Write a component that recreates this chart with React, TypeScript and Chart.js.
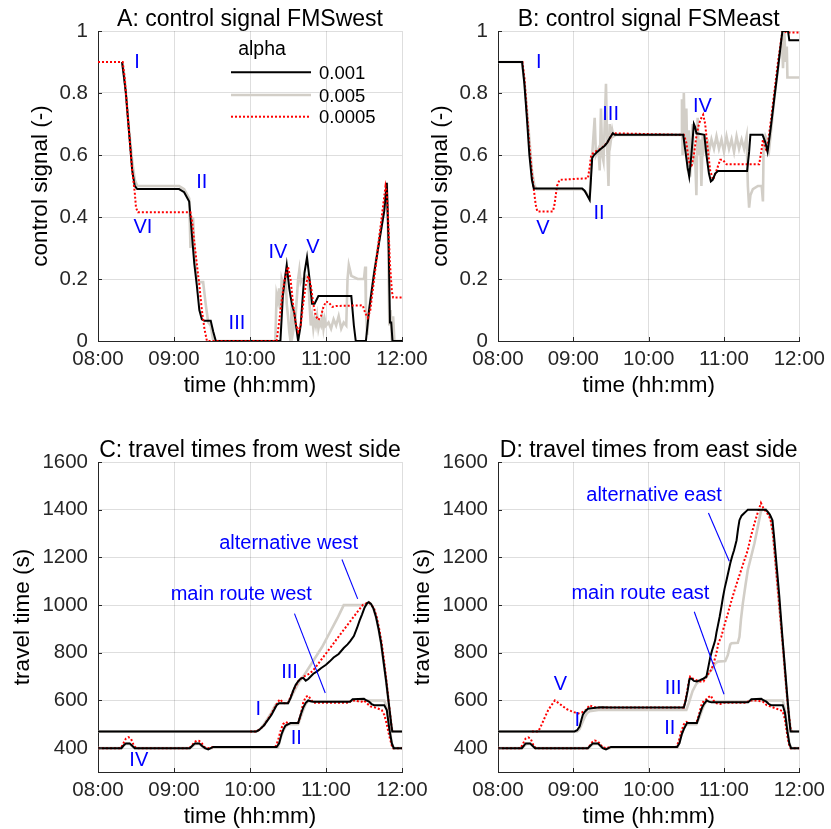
import React, { useEffect, useRef } from 'react';
import { Chart, registerables } from 'chart.js';

Chart.register(...registerables);

type Pts = [number, number][];

const FONT = '"Liberation Sans", Arial, Helvetica, sans-serif';
const AXIS = '#262626';
const GRID = 'rgba(0,0,0,0.13)';
const BLUE = '#0000ff';

// time is in minutes after 08:00
const TIME_TICKS = [0, 60, 120, 180, 240];
const SIGNAL_TICKS = [0, 0.2, 0.4, 0.6, 0.8, 1];
const TRAVEL_TICKS = [400, 600, 800, 1000, 1200, 1400, 1600];
const ALPHAS = ['0.001', '0.005', '0.0005'];

// ---- A: control signal FMSwest ----
const aBlack: Pts = [
  [19, 0.9], [19.5, 0.9], [22, 0.8], [25, 0.65], [27, 0.55], [29, 0.5], [31, 0.49], [64, 0.49], [68, 0.48],
  [72, 0.45], [74, 0.35], [76, 0.25], [78, 0.18], [80, 0.1], [82, 0.07], [84, 0.065], [89, 0.065], [91, 0.03],
  [93, 0], [144, 0], [146, 0.15], [149, 0.245], [151, 0.17], [153, 0.12], [155, 0.09], [158, 0], [160, 0.05],
  [163, 0.22], [165, 0.27], [167, 0.2], [169, 0.12], [171, 0.12], [174, 0.145], [200, 0.145], [202, 0.05],
  [203.5, 0], [211.5, 0], [214, 0.1], [218, 0.22], [222, 0.32], [226, 0.42], [228, 0.51], [229.5, 0.3],
  [230.5, 0.06], [231.5, 0.06], [232.5, 0], [240, 0],
];
const aGray: Pts = [
  [19, 0.9], [21, 0.85], [24, 0.7], [27, 0.58], [29, 0.52], [31, 0.5], [64, 0.5], [68, 0.49], [72, 0.46],
  [73, 0.3], [75, 0.4], [76, 0.3], [78, 0.2], [80, 0.19], [83, 0.19], [85, 0.12], [87, 0.06], [89, 0.05],
  [91, 0], [140, 0], [141, 0.15], [142, 0.13], [143, 0.17], [144, 0.1], [145, 0.2], [147, 0.17], [148, 0.22],
  [149, 0.12], [150, 0.08], [151, 0.03], [152, 0], [153, 0.12], [154, 0.03], [156, 0.08], [158, 0.2],
  [159, 0.23], [160, 0.19], [161, 0.2], [163, 0.2], [165, 0.21], [166, 0.2], [167, 0.12], [168, 0.05],
  [169, 0.08], [170, 0.04], [171, 0.07], [172, 0.05], [173, 0.08], [174, 0.04], [175, 0.06], [176, 0.05],
  [177, 0.08], [178, 0.04], [179, 0.07], [180, 0.05], [182, 0.06], [184, 0.04], [186, 0.07], [188, 0.05],
  [190, 0.08], [192, 0.04], [194, 0.06], [196, 0.05], [197, 0.2], [198, 0.245], [200, 0.21], [205, 0.2],
  [210, 0.2], [211, 0.24], [211.5, 0.1], [212.5, 0.02], [214, 0.1], [218, 0.22], [222, 0.33], [226, 0.43],
  [228, 0.51], [229, 0.35], [230, 0.05], [231, 0.1], [232, 0], [233, 0.08], [234, 0], [240, 0],
];
const aRed: Pts = [
  [0, 0.9], [19.5, 0.9], [21, 0.85], [23, 0.75], [25, 0.65], [27, 0.55], [29, 0.48], [30, 0.43], [31.5, 0.415],
  [73, 0.415], [74.5, 0.38], [76, 0.32], [78, 0.25], [80, 0.18], [82, 0.1], [84, 0.04], [86, 0], [141, 0],
  [143, 0.06], [145, 0.13], [147, 0.19], [150, 0.24], [152, 0.2], [154, 0.12], [156, 0.06], [158, 0.03],
  [160, 0.05], [162, 0.12], [164, 0.18], [166, 0.21], [168, 0.18], [170, 0.12], [172, 0.08], [174, 0.068],
  [176, 0.08], [178, 0.11], [180, 0.127], [182, 0.125], [185, 0.11], [188, 0.113], [209, 0.115], [211, 0.09],
  [213, 0.075], [215, 0.1], [218, 0.2], [221, 0.3], [224, 0.4], [227, 0.5], [228, 0.48], [229, 0.4],
  [230.5, 0.25], [232, 0.16], [233, 0.14], [240, 0.14],
];

// ---- B: control signal FSMeast ----
const bBlack: Pts = [
  [0, 0.9], [19.2, 0.9], [21, 0.83], [23, 0.72], [25, 0.6], [27, 0.52], [28.5, 0.492], [67, 0.492], [69, 0.485],
  [71, 0.47], [73, 0.455], [74, 0.52], [75, 0.59], [76.5, 0.6], [79, 0.61], [82, 0.62], [85, 0.63], [87, 0.64],
  [89, 0.655], [91.5, 0.67], [93, 0.665], [147.5, 0.665], [149, 0.62], [151, 0.56], [152.3, 0.53], [154, 0.6],
  [156, 0.7], [157, 0.69], [158, 0.67], [164.3, 0.665], [166, 0.6], [168, 0.54], [169.5, 0.515], [171, 0.52],
  [173, 0.54], [175.2, 0.548], [198.4, 0.548], [200, 0.61], [201, 0.665], [210.7, 0.665], [213, 0.64],
  [214.7, 0.61], [217, 0.68], [220, 0.78], [223, 0.88], [226.5, 1.0], [231, 1.0], [232, 0.97], [240, 0.97],
];
const bGray: Pts = [
  [0, 0.9], [19, 0.9], [21, 0.84], [24, 0.7], [27, 0.55], [29, 0.5], [31, 0.49], [67, 0.49], [70, 0.48],
  [73, 0.46], [74, 0.55], [75, 0.6], [77, 0.72], [78, 0.6], [80, 0.62], [81, 0.55], [82, 0.75], [83, 0.6],
  [84, 0.58], [85, 0.7], [86, 0.83], [87, 0.62], [88, 0.5], [89, 0.7], [90, 0.65], [91, 0.68], [92, 0.66],
  [94, 0.665], [146, 0.665], [146.5, 0.78], [147, 0.6], [148, 0.8], [149, 0.62], [150, 0.75], [151, 0.55],
  [152, 0.68], [153, 0.53], [154, 0.63], [155, 0.7], [156, 0.57], [157, 0.6], [158, 0.47], [159, 0.72],
  [160, 0.6], [161, 0.65], [162, 0.5], [163, 0.66], [164, 0.62], [165, 0.64], [166, 0.6], [167, 0.65],
  [168, 0.61], [170, 0.65], [172, 0.62], [174, 0.66], [176, 0.62], [178, 0.65], [180, 0.61], [182, 0.66],
  [184, 0.62], [186, 0.65], [188, 0.61], [190, 0.66], [192, 0.62], [194, 0.65], [196, 0.62], [198, 0.66],
  [199, 0.5], [200, 0.43], [201, 0.47], [203, 0.49], [207, 0.5], [210, 0.5], [211, 0.45], [211.5, 0.62],
  [213, 0.66], [215, 0.64], [216, 0.62], [218, 0.7], [220, 0.78], [223, 0.88], [226, 0.98], [227, 0.88],
  [228, 1.0], [229, 0.9], [230, 0.95], [230.5, 0.85], [240, 0.85],
];
const bRed: Pts = [
  [0, 0.9], [19.5, 0.9], [21, 0.85], [23, 0.74], [25, 0.63], [27, 0.54], [28.5, 0.49], [30, 0.44], [31.3, 0.418],
  [43.7, 0.418], [45, 0.44], [47, 0.5], [49, 0.52], [71.6, 0.525], [73, 0.56], [74.2, 0.6], [77, 0.61],
  [82, 0.62], [87, 0.64], [91.5, 0.67], [148, 0.665], [150, 0.64], [152, 0.58], [154, 0.56], [156, 0.6],
  [158, 0.66], [160, 0.7], [162, 0.72], [163.4, 0.73], [165, 0.7], [167, 0.62], [169, 0.55], [171.3, 0.52],
  [174, 0.55], [177, 0.585], [179, 0.585], [182, 0.57], [184, 0.57], [208, 0.57], [210, 0.62], [211, 0.65],
  [212.5, 0.63], [214, 0.61], [217, 0.7], [220, 0.8], [223, 0.9], [226.5, 1.0], [228, 1.0], [230, 0.995],
  [240, 0.995],
];

// ---- C: travel times from west side ----
const cMainBlack: Pts = [
  [0, 400], [18.5, 400], [20, 410], [22, 420], [25, 420], [27, 410], [29, 400], [72.5, 400], [74.5, 410],
  [76.5, 420], [80, 420], [82, 410], [84.5, 400], [87, 395], [89, 400], [91, 405], [141, 405], [143, 420],
  [145, 460], [146.5, 480], [148, 495], [150, 500], [152, 505], [158, 505], [160, 540], [162, 570], [164, 590],
  [166, 600], [168, 597], [170, 595], [199, 595], [201, 605], [210, 607], [212, 600], [214, 595], [216, 585],
  [218, 580], [226, 580], [228, 560], [230, 480], [232, 420], [233.5, 400], [240, 400],
];
const cMainGray: Pts = [
  [0, 400], [18.5, 400], [20, 410], [22, 418], [25, 418], [27, 408], [29, 400], [72.5, 400], [75, 410],
  [77, 418], [80, 418], [82, 408], [84, 400], [88, 398], [91, 402], [142, 402], [144, 440], [146, 470],
  [148, 490], [150, 500], [158, 500], [160, 530], [162, 560], [164, 585], [166, 598], [170, 595], [199, 597],
  [202, 600], [226, 600], [228, 570], [230, 490], [232, 420], [233.5, 400], [240, 400],
];
const cMainRed: Pts = [
  [0, 400], [18, 400], [20, 420], [22, 440], [24, 446], [26, 440], [28, 415], [30, 400], [72, 400], [74, 410],
  [76, 425], [78, 432], [80, 430], [82, 420], [84, 405], [87, 400], [91, 405], [140, 405], [142, 430],
  [144, 470], [146, 500], [148, 510], [150, 505], [158, 505], [160, 540], [162, 590], [164, 615], [166, 620],
  [168, 605], [170, 590], [175, 590], [198, 590], [200, 600], [204, 600], [206, 595], [208, 595], [210, 600],
  [212, 590], [215, 575], [219, 570], [224, 560], [226, 540], [228, 500], [230, 450], [232, 410], [233, 400],
  [240, 400],
];
const cAltBlack: Pts = [
  [0, 470], [125, 470], [127, 475], [129, 485], [131, 495], [133, 510], [135, 525], [137, 540], [139, 560],
  [141, 580], [143, 588], [150, 588], [152, 610], [154, 640], [156, 665], [158, 680], [160, 692], [162, 695],
  [164, 683], [166, 690], [170, 712], [173, 722], [176, 735], [180, 750], [183, 764], [186, 780], [190, 795],
  [194, 820], [197, 835], [199, 848], [202, 870], [204.5, 904], [206.5, 935], [208.4, 960], [210.5, 990],
  [212.5, 1008], [213.7, 1012], [215.5, 1005], [217.5, 985], [219.5, 950], [221.5, 900], [223.5, 840],
  [225.5, 760], [227.5, 680], [229.5, 590], [231.5, 500], [232.3, 470], [240, 470],
];
const cAltGray: Pts = [
  [0, 470], [125, 470], [128, 480], [131, 500], [134, 525], [137, 550], [140, 580], [142, 588], [150, 588],
  [153, 620], [156, 650], [159, 680], [162, 700], [165, 725], [168, 750], [171, 775], [174, 800], [177, 825],
  [180, 855], [183, 885], [186, 915], [189, 945], [192, 978], [194, 1000], [209, 1000], [212, 1005],
  [213.7, 1012], [215.5, 1005], [217.5, 985], [219.5, 950], [221.5, 900], [223.5, 840], [225.5, 760],
  [227.5, 680], [229.5, 590], [231.5, 500], [232.3, 470], [240, 470],
];
// the dotted 0.0005 alternative-route curve is only drawn where it leaves the 470 s plateau
const cAltRed: Pts = [
  [120, 470], [125, 470], [128, 480], [131, 495], [134, 520], [137, 545], [140, 575], [142, 595], [144, 605],
  [146, 590], [148, 588], [150, 590], [152, 615], [155, 650], [158, 680], [161, 695], [164, 705], [167, 712],
  [170, 727], [173, 748], [176, 769], [179, 790], [182, 811], [185, 832], [188, 854], [191, 875], [194, 896],
  [197, 917], [200, 938], [203, 959], [206, 980], [209, 1000], [212, 1008], [214, 1010], [216, 1000],
  [218, 985], [220, 950], [222, 900], [224, 840], [226, 760], [228, 670], [230, 570], [232, 480], [233, 470],
];

// ---- D: travel times from east side ----
const dMainBlack: Pts = [
  [0, 400], [19, 400], [20.5, 410], [22, 420], [25.5, 420], [27.5, 410], [29.5, 400], [71.6, 400], [73.5, 410],
  [75.5, 420], [79.5, 420], [81.5, 410], [83.4, 400], [86, 395], [88, 400], [90, 405], [142.6, 405],
  [144.5, 420], [146.5, 460], [148, 480], [150.5, 505], [158.4, 505], [160.5, 540], [162.5, 570], [164, 585],
  [166.3, 600], [168, 595], [170, 592], [199.2, 592], [201.8, 605], [209.7, 607], [211.7, 600], [213.7, 595],
  [215.7, 585], [217.6, 580], [226.8, 580], [228.5, 550], [230.5, 470], [232, 420], [233.4, 400], [240, 400],
];
const dMainGray: Pts = [
  [0, 400], [19, 400], [21, 410], [23, 418], [26, 418], [28, 408], [30, 400], [72, 400], [74, 410], [76, 418],
  [80, 418], [82, 408], [84, 400], [87, 398], [90, 402], [143, 402], [145, 440], [147, 470], [149, 495],
  [151, 500], [158, 500], [160.5, 530], [162.5, 560], [164.5, 585], [166.5, 598], [170, 595], [199, 597],
  [202, 600], [226.8, 600], [228.5, 560], [230.5, 480], [232, 420], [233.4, 400], [240, 400],
];
const dMainRed: Pts = [
  [0, 400], [18, 400], [20, 420], [22, 440], [24, 445], [26, 440], [28, 415], [30, 400], [71, 400], [73, 410],
  [75, 425], [77, 432], [79, 430], [81, 420], [83, 405], [86, 400], [90, 405], [142, 405], [144, 430],
  [146, 470], [148, 500], [150, 510], [152, 505], [158, 505], [160, 540], [162, 580], [164, 600], [166, 605],
  [168, 615], [169.5, 620], [171, 605], [173, 590], [177, 585], [180, 590], [198, 590], [200, 600], [205, 600],
  [208, 598], [211, 595], [214, 580], [217, 575], [222, 565], [226.8, 555], [228.5, 520], [230.5, 450],
  [232, 410], [233, 400], [240, 400],
];
const dAltBlack: Pts = [
  [0, 470], [61, 470], [63, 475], [65, 490], [66.5, 520], [67.6, 540], [69, 552], [71.6, 565], [76, 568],
  [82, 572], [90, 570], [148, 570], [149.5, 600], [151, 640], [152.5, 690], [154, 692], [156, 682],
  [158.4, 680], [161, 685], [163, 690], [166, 700], [167.5, 740], [169, 780], [170.5, 810], [172, 835],
  [173, 853], [174, 885], [175.2, 916], [176.5, 950], [178, 995], [179.2, 1034], [180.5, 1070], [182, 1104],
  [183.5, 1140], [185, 1175], [186.5, 1205], [188, 1230], [190, 1272], [191.2, 1320], [192.3, 1356],
  [194, 1375], [196, 1385], [198, 1395], [199, 1400], [213.3, 1400], [215, 1390], [216.5, 1380],
  [218.6, 1356], [220, 1280], [222, 1160], [224, 1040], [226.5, 866], [228.5, 740], [230.5, 610], [232, 520],
  [233, 470], [240, 470],
];
const dAltGray: Pts = [
  [0, 470], [63, 470], [65, 480], [67, 505], [69, 530], [71, 548], [73, 555], [80, 560], [150, 560], [152, 590],
  [155, 640], [158, 670], [161, 685], [164, 690], [166, 700], [168, 715], [171, 735], [173, 755], [175, 763],
  [181, 765], [183, 790], [185, 835], [186, 840], [191, 842], [192.3, 867], [193.5, 940], [195, 1007],
  [197, 1080], [198.9, 1146], [201, 1190], [204.2, 1258], [207, 1330], [209.4, 1395], [211, 1400],
  [213.7, 1400], [215, 1390], [217, 1370], [219, 1300], [221, 1180], [223, 1060], [225, 940], [227, 820],
  [229, 690], [231, 570], [233, 480], [234, 470], [240, 470],
];
const dAltRed: Pts = [
  [27, 470], [32, 470], [34, 490], [37.4, 530], [40, 560], [42.6, 580], [45.3, 600], [48, 590], [51.8, 575],
  [55, 563], [58.4, 555], [61, 550], [63.7, 545], [67, 550], [70, 560], [72.9, 580], [76, 572], [82, 570],
  [148, 570], [150, 620], [152, 680], [153, 700], [155, 692], [158, 685], [161, 680], [163.7, 680], [166, 700],
  [168, 715], [170, 730], [172, 760], [174, 800], [175.5, 840], [177.8, 867], [180, 910], [183.1, 965],
  [186, 1020], [188.4, 1062], [191, 1105], [193.6, 1146], [196, 1185], [198.9, 1230], [201.5, 1290],
  [204.2, 1342], [207, 1390], [209.4, 1428], [211, 1410], [213, 1395], [215, 1380], [217, 1360], [219, 1300],
  [221, 1180], [223, 1060], [225, 940], [227, 820], [229, 690], [231, 570], [233, 480], [234, 470],
];

type Kind = 'black' | 'gray' | 'red';
const STYLE: Record<Kind, { color: string; width: number; dash: number[] }> = {
  black: { color: '#000000', width: 2, dash: [] },
  gray: { color: '#d2cec7', width: 2.6, dash: [] },
  red: { color: '#ff0000', width: 2, dash: [2, 2] },
};

interface Note { text: string; t: number; v: number }
interface Leader { t1: number; v1: number; t2: number; v2: number }
interface PanelDef {
  title: string;
  yLabel: string;
  yLabelGap: number;
  left: number;
  top: number;
  yMin: number;
  yMax: number;
  yTicks: number[];
  yFmt: (v: number) => string;
  series: { data: Pts; kind: Kind }[]; // first entry is drawn on top
  notes: Note[];
  leaders: Leader[];
  legend?: boolean;
}

const PLOT_W = 304;
const PLOT_H = 310;
const Y_AXIS_W = 98;
const X_AXIS_H = 40;
const CANVAS_W = 831;
const CANVAS_H = 829;

const fmtSignal = (v: number) => (v === 0 ? '0' : v === 1 ? '1' : v.toFixed(1));
const fmtTravel = (v: number) => String(v);
const fmtTime = (m: number) => {
  const h = 8 + Math.floor(m / 60);
  const mm = m % 60;
  return `${String(h).padStart(2, '0')}:${String(mm).padStart(2, '0')}`;
};

const PANELS: PanelDef[] = [
  {
    title: 'A: control signal FMSwest', yLabel: 'control signal (-)', yLabelGap: 51.5,
    left: 98, top: 31, yMin: 0, yMax: 1, yTicks: SIGNAL_TICKS, yFmt: fmtSignal,
    series: [{ data: aRed, kind: 'red' }, { data: aBlack, kind: 'black' }, { data: aGray, kind: 'gray' }],
    notes: [
      { text: 'I', t: 30.8, v: 0.9 }, { text: 'II', t: 82, v: 0.51 }, { text: 'VI', t: 35.5, v: 0.365 },
      { text: 'III', t: 109.7, v: 0.058 }, { text: 'IV', t: 142, v: 0.287 }, { text: 'V', t: 169.7, v: 0.303 },
    ],
    leaders: [],
    legend: true,
  },
  {
    title: 'B: control signal FSMeast', yLabel: 'control signal (-)', yLabelGap: 51.5,
    left: 498, top: 31, yMin: 0, yMax: 1, yTicks: SIGNAL_TICKS, yFmt: fmtSignal,
    series: [{ data: bBlack, kind: 'black' }, { data: bRed, kind: 'red' }, { data: bGray, kind: 'gray' }],
    notes: [
      { text: 'I', t: 32.4, v: 0.9 }, { text: 'V', t: 35.8, v: 0.363 }, { text: 'II', t: 80.5, v: 0.41 },
      { text: 'III', t: 89.7, v: 0.73 }, { text: 'IV', t: 162.8, v: 0.758 },
    ],
    leaders: [],
  },
  {
    title: 'C: travel times from west side', yLabel: 'travel time (s)', yLabelGap: 69.5,
    left: 98, top: 462, yMin: 300, yMax: 1600, yTicks: TRAVEL_TICKS, yFmt: fmtTravel,
    series: [
      { data: cMainBlack, kind: 'black' }, { data: cAltBlack, kind: 'black' },
      { data: cMainRed, kind: 'red' }, { data: cAltRed, kind: 'red' },
      { data: cMainGray, kind: 'gray' }, { data: cAltGray, kind: 'gray' },
    ],
    notes: [
      { text: 'alternative west', t: 150.5, v: 1259 }, { text: 'main route west', t: 113.1, v: 1043 },
      { text: 'III', t: 151.2, v: 718 }, { text: 'I', t: 126.6, v: 561 }, { text: 'II', t: 156.5, v: 442 },
      { text: 'IV', t: 32.2, v: 348 },
    ],
    leaders: [
      { t1: 192.6, v1: 1191, t2: 205, v2: 1026 },
      { t1: 155.1, v1: 964, t2: 179.4, v2: 631 },
    ],
  },
  {
    title: 'D: travel times from east side', yLabel: 'travel time (s)', yLabelGap: 69.5,
    left: 498, top: 462, yMin: 300, yMax: 1600, yTicks: TRAVEL_TICKS, yFmt: fmtTravel,
    series: [
      { data: dMainBlack, kind: 'black' }, { data: dAltBlack, kind: 'black' },
      { data: dMainRed, kind: 'red' }, { data: dAltRed, kind: 'red' },
      { data: dMainGray, kind: 'gray' }, { data: dAltGray, kind: 'gray' },
    ],
    notes: [
      { text: 'alternative east', t: 124.3, v: 1460 }, { text: 'main route east', t: 113.4, v: 1050 },
      { text: 'III', t: 139.5, v: 651 }, { text: 'I', t: 63.2, v: 514 }, { text: 'II', t: 136.8, v: 484 },
      { text: 'V', t: 49.7, v: 668 },
    ],
    leaders: [
      { t1: 167.6, v1: 1386, t2: 184.2, v2: 1184 },
      { t1: 156.3, v1: 972, t2: 180, v2: 626 },
    ],
  },
];

const decorPlugin = (def: PanelDef) => ({
  id: 'panelDecor',
  afterDraw(chart: any) {
    const { ctx, chartArea: a, scales } = chart;
    const xs = scales.x;
    const ys = scales.y;
    ctx.save();

    // short inward tick marks
    ctx.strokeStyle = AXIS;
    ctx.lineWidth = 1;
    ctx.setLineDash([]);
    ctx.beginPath();
    TIME_TICKS.forEach((t) => {
      const px = Math.round(xs.getPixelForValue(t)) + 0.5;
      ctx.moveTo(px, a.bottom);
      ctx.lineTo(px, a.bottom - 4);
    });
    def.yTicks.forEach((v) => {
      const py = Math.round(ys.getPixelForValue(v)) + 0.5;
      ctx.moveTo(a.left, py);
      ctx.lineTo(a.left + 4, py);
    });
    ctx.stroke();

    // title and axis titles
    const cx = (a.left + a.right) / 2;
    ctx.fillStyle = '#000';
    ctx.textAlign = 'center';
    ctx.textBaseline = 'alphabetic';
    ctx.font = `23px ${FONT}`;
    ctx.fillText(def.title, cx, a.top - 5.5);
    ctx.font = `22.5px ${FONT}`;
    ctx.fillText('time (hh:mm)', cx, a.bottom + 50.5);
    ctx.save();
    ctx.translate(a.left - def.yLabelGap, (a.top + a.bottom) / 2);
    ctx.rotate(-Math.PI / 2);
    ctx.fillText(def.yLabel, 0, 0);
    ctx.restore();

    // leader lines
    ctx.strokeStyle = BLUE;
    ctx.lineWidth = 1.1;
    def.leaders.forEach((l) => {
      ctx.beginPath();
      ctx.moveTo(xs.getPixelForValue(l.t1), ys.getPixelForValue(l.v1));
      ctx.lineTo(xs.getPixelForValue(l.t2), ys.getPixelForValue(l.v2));
      ctx.stroke();
    });

    // annotations
    ctx.fillStyle = BLUE;
    ctx.font = `20px ${FONT}`;
    ctx.textBaseline = 'middle';
    def.notes.forEach((n) => {
      ctx.fillText(n.text, xs.getPixelForValue(n.t), ys.getPixelForValue(n.v));
    });

    // legend
    if (def.legend) {
      ctx.fillStyle = '#000';
      ctx.textAlign = 'center';
      ctx.textBaseline = 'alphabetic';
      ctx.font = `19.5px ${FONT}`;
      ctx.fillText('alpha', 262, 55);
      const kinds: Kind[] = ['black', 'gray', 'red'];
      const rowsY = [72.3, 95, 116.7];
      ctx.textAlign = 'left';
      ctx.font = `18.5px ${FONT}`;
      kinds.forEach((k, i) => {
        const s = STYLE[k];
        ctx.strokeStyle = s.color;
        ctx.lineWidth = s.width;
        ctx.setLineDash(s.dash);
        ctx.beginPath();
        ctx.moveTo(231, rowsY[i]);
        ctx.lineTo(311, rowsY[i]);
        ctx.stroke();
        ctx.setLineDash([]);
        ctx.fillText(ALPHAS[i], 319, rowsY[i] + 6.5);
      });
    }
    ctx.restore();
  },
});

function Panel({ def }: { def: PanelDef }) {
  const ref = useRef<HTMLCanvasElement | null>(null);
  useEffect(() => {
    if (!ref.current) return;
    const datasets = def.series.map((s, i) => ({
      label: `${s.kind}-${i}`,
      data: s.data.map(([x, y]) => ({ x, y })),
      borderColor: STYLE[s.kind].color,
      borderWidth: STYLE[s.kind].width,
      borderDash: STYLE[s.kind].dash,
      pointRadius: 0,
      tension: 0,
      fill: false,
      order: i,
    }));
    const right = def.left + PLOT_W;
    const bottom = def.top + PLOT_H;
    const chart = new Chart(ref.current, {
      type: 'line',
      data: { datasets },
      options: {
        animation: false,
        responsive: false,
        devicePixelRatio: 1,
        events: [],
        layout: {
          padding: {
            left: def.left - Y_AXIS_W,
            top: def.top,
            right: CANVAS_W - right,
            bottom: CANVAS_H - bottom - X_AXIS_H,
          },
        },
        plugins: { legend: { display: false }, title: { display: false }, tooltip: { enabled: false } },
        scales: {
          x: {
            type: 'linear',
            min: 0,
            max: 240,
            afterBuildTicks: (s: any) => { s.ticks = TIME_TICKS.map((value) => ({ value })); },
            afterFit: (s: any) => { s.height = X_AXIS_H; },
            ticks: {
              autoSkip: false,
              maxRotation: 0,
              padding: 6,
              color: AXIS,
              font: { family: FONT, size: 20.5 },
              callback: (v: any) => fmtTime(Number(v)),
            },
            grid: { color: GRID, drawTicks: false, lineWidth: 1 },
            border: { color: AXIS, width: 1 },
          },
          y: {
            type: 'linear',
            min: def.yMin,
            max: def.yMax,
            afterBuildTicks: (s: any) => { s.ticks = def.yTicks.map((value) => ({ value })); },
            afterFit: (s: any) => { s.width = Y_AXIS_W; },
            ticks: {
              autoSkip: false,
              padding: 10,
              color: AXIS,
              font: { family: FONT, size: 20.5 },
              callback: (v: any) => def.yFmt(Number(v)),
            },
            grid: { color: GRID, drawTicks: false, lineWidth: 1 },
            border: { color: AXIS, width: 1 },
          },
        },
      },
      plugins: [decorPlugin(def)],
    } as any);
    return () => chart.destroy();
  }, [def]);
  return (
    <canvas
      ref={ref}
      width={CANVAS_W}
      height={CANVAS_H}
      style={{ position: 'absolute', left: 0, top: 0, width: CANVAS_W, height: CANVAS_H }}
    />
  );
}

export default function App() {
  return (
    <div
      style={{
        position: 'fixed', left: 0, top: 0, width: CANVAS_W, height: CANVAS_H,
        background: '#ffffff', overflow: 'hidden',
      }}
    >
      {PANELS.map((p) => (
        <Panel key={p.title} def={p} />
      ))}
    </div>
  );
}
